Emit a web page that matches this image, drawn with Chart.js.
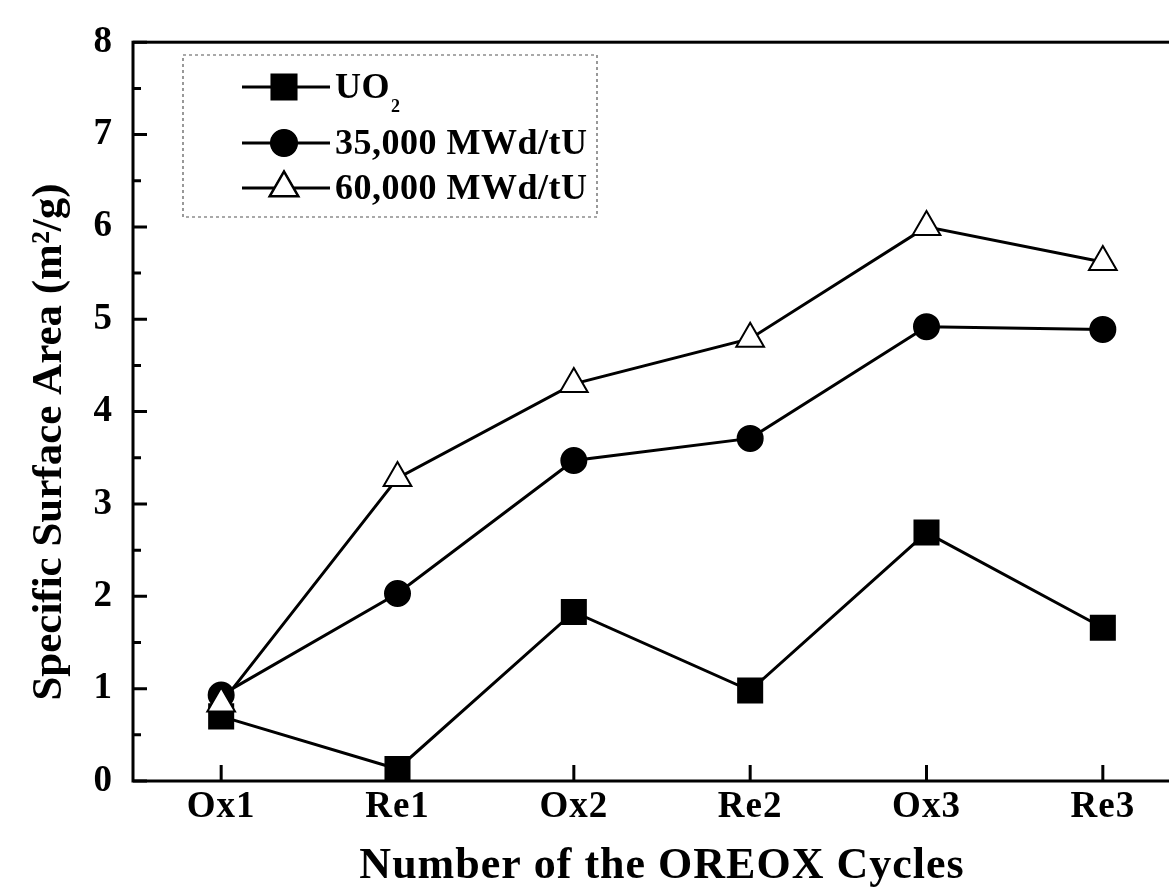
<!DOCTYPE html>
<html>
<head>
<meta charset="utf-8">
<script src="https://cdn.jsdelivr.net/npm/chart.js@4.4.1/dist/chart.umd.min.js"></script>
<style>
  html, body { margin: 0; padding: 0; background: #fff; overflow: hidden; }
  #wrap { width: 1210px; height: 889px; }
</style>
</head>
<body>
<div id="wrap"><canvas id="c" width="1210" height="889"></canvas></div>
<script>
const categories = ["Ox1", "Re1", "Ox2", "Re2", "Ox3", "Re3"];
const uo2 = [0.70, 0.13, 1.83, 0.98, 2.69, 1.66];
const mwd35000 = [0.93, 2.03, 3.47, 3.71, 4.92, 4.89];
const mwd60000 = [0.84, 3.28, 4.30, 4.79, 6.00, 5.62];
const yTicks = [0, 1, 2, 3, 4, 5, 6, 7, 8];
const seriesNames = ["UO", "35,000 MWd/tU", "60,000 MWd/tU"];
const xTitle = "Number of the OREOX Cycles";
const yTitle = "Specific Surface Area (m²/g)";

const FONT = '"Liberation Serif", "DejaVu Serif", serif';

const boxAndTicks = {
  id: 'boxAndTicks',
  beforeDraw(chart) {
    chart.ctx.letterSpacing = '1px';
  },
  afterDatasetsDraw(chart) {
    const {ctx, chartArea: a, scales: {x, y}} = chart;
    ctx.save();
    ctx.strokeStyle = '#000';
    ctx.lineWidth = 3;
    ctx.strokeRect(a.left, a.top, a.right - a.left, a.bottom - a.top);
    ctx.beginPath();
    for (let v = 0; v <= 8; v += 0.5) {
      const py = y.getPixelForValue(v);
      const len = Number.isInteger(v) ? 14 : 8;
      ctx.moveTo(a.left, py);
      ctx.lineTo(a.left + len, py);
    }
    categories.forEach((c, i) => {
      const px = x.getPixelForValue(i);
      ctx.moveTo(px, a.bottom);
      ctx.lineTo(px, a.bottom - 16);
    });
    ctx.stroke();
    ctx.restore();
  },
  afterDraw(chart) {
    const {ctx} = chart;
    ctx.save();
    // y axis title
    ctx.save();
    ctx.translate(50, 442);
    ctx.rotate(-Math.PI / 2);
    ctx.fillStyle = '#000';
    ctx.font = 'bold 43px ' + FONT;
    ctx.textAlign = 'center';
    ctx.textBaseline = 'middle';
    ctx.letterSpacing = '0px';
    ctx.fillText(yTitle, 0, 0);
    ctx.restore();

    // legend box
    ctx.strokeStyle = '#555';
    ctx.lineWidth = 1.2;
    ctx.setLineDash([3, 3]);
    ctx.strokeRect(183, 55, 414, 162);
    ctx.setLineDash([]);
    const rows = [87, 143, 188];
    const styles = chart.data.datasets;
    rows.forEach((ry, i) => {
      const ds = styles[i];
      ctx.strokeStyle = '#000';
      ctx.lineWidth = 3;
      ctx.beginPath();
      ctx.moveTo(242, ry);
      ctx.lineTo(330, ry);
      ctx.stroke();
      Chart.helpers.drawPoint(ctx, {
        pointStyle: ds.pointStyle,
        radius: ds.pointRadius,
        borderWidth: ds.pointBorderWidth
      }, 284, ry);
      ctx.fillStyle = ds.pointBackgroundColor;
      ctx.strokeStyle = '#000';
      ctx.lineWidth = ds.pointBorderWidth;
      ctx.fill();
      ctx.stroke();
      ctx.fillStyle = '#000';
      ctx.font = 'bold 36px ' + FONT;
      ctx.letterSpacing = '0.5px';
      ctx.textBaseline = 'middle';
      ctx.textAlign = 'left';
      ctx.fillText(seriesNames[i], 335, ry + 2);
      if (i === 0) {
        const w = ctx.measureText(seriesNames[0]).width;
        ctx.font = 'bold 18px ' + FONT;
        ctx.fillText('2', 335 + w + 1, ry + 20);
      }
    });
    ctx.restore();
  }
};

function mkDs(label, data, style, radius, bg) {
  return {
    label, data,
    borderColor: '#000',
    borderWidth: 3,
    pointStyle: style,
    pointRadius: radius,
    pointHoverRadius: radius,
    pointBackgroundColor: bg,
    pointBorderColor: '#000',
    pointBorderWidth: 2,
    fill: false,
    tension: 0
  };
}

new Chart(document.getElementById('c'), {
  type: 'line',
  data: {
    labels: categories,
    datasets: [
      Object.assign(mkDs('UO2', uo2, 'rect', 17, '#000'), {order: 1}),
      Object.assign(mkDs('35,000 MWd/tU', mwd35000, 'circle', 12.5, '#000'), {order: 2}),
      Object.assign(mkDs('60,000 MWd/tU', mwd60000, 'triangle', 16, '#fff'), {order: 0})
    ]
  },
  plugins: [boxAndTicks],
  options: {
    responsive: false,
    animation: false,
    layout: { padding: { top: 40, right: 9, left: 0, bottom: 0 } },
    plugins: { legend: { display: false }, tooltip: { enabled: false } },
    scales: {
      x: {
        type: 'category',
        offset: true,
        grid: { display: false, drawTicks: false },
        border: { display: false },
        ticks: { color: '#000', padding: 4, font: { family: FONT, size: 37, weight: 'bold' } },
        title: {
          display: true, text: xTitle, color: '#000',
          padding: { top: 0, bottom: 0 },
          font: { family: FONT, size: 44, weight: 'bold', lineHeight: 1 }
        },
        afterFit(s) { s.height = 108; }
      },
      y: {
        min: 0, max: 8,
        grid: { display: false, drawTicks: false },
        border: { display: false },
        afterBuildTicks(s) { s.ticks = yTicks.map(v => ({value: v})); },
        ticks: { color: '#000', padding: 20, font: { family: FONT, size: 37, weight: 'bold' } },
        title: { display: false },
        afterFit(s) { s.width = 133; }
      }
    }
  }
});
</script>
</body>
</html>
